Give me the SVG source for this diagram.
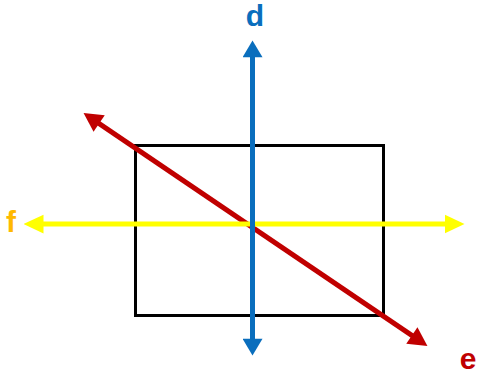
<svg xmlns="http://www.w3.org/2000/svg" width="478" height="378" viewBox="0 0 478 378">
  <style>
    .lbl { font-family: "Liberation Sans", Arial, sans-serif; font-weight: bold; font-size: 30px; text-anchor: middle; }
  </style>
  <defs>
    <marker id="ab" markerUnits="userSpaceOnUse" markerWidth="20" markerHeight="20" viewBox="0 0 16 19" refX="6" refY="9.5" orient="auto-start-reverse">
      <path d="M0,0 L16,9.5 L0,19 z" fill="#0A6EBD"/>
    </marker>
    <marker id="ay" markerUnits="userSpaceOnUse" markerWidth="20" markerHeight="20" viewBox="0 0 16 15" refX="6" refY="7.5" orient="auto-start-reverse">
      <path d="M0,0 L16,7.5 L0,15 z" fill="#FFFF00"/>
    </marker>
    <marker id="ar" markerUnits="userSpaceOnUse" markerWidth="20" markerHeight="20" viewBox="0 0 16 17" refX="6" refY="8.5" orient="auto-start-reverse">
      <path d="M0,0 L16,8.5 L0,17 z" fill="#C00000"/>
    </marker>
  </defs>
  <g id="rectangle">
    <rect x="135.5" y="145.5" width="248" height="170" fill="none" stroke="#000" stroke-width="3"/>
  </g>
  <g id="connectors">
    <line id="e-line" x1="93.3" y1="119.6" x2="417.7" y2="339.4" stroke="#C00000" stroke-width="5" marker-start="url(#ar)" marker-end="url(#ar)"/>
    <line id="f-line" x1="36" y1="224" x2="452" y2="224" stroke="#FFFF00" stroke-width="5" marker-start="url(#ay)" marker-end="url(#ay)"/>
    <line id="d-line" x1="252.5" y1="51" x2="252.5" y2="345" stroke="#0A6EBD" stroke-width="5" marker-start="url(#ab)" marker-end="url(#ab)"/>
  </g>
  <g id="labels">
    <text class="lbl" x="255" y="26" fill="#0A6EBD">d</text>
    <text class="lbl" x="11" y="232" fill="#FFB900">f</text>
    <text class="lbl" x="468" y="369" fill="#C00000">e</text>
  </g>
</svg>
